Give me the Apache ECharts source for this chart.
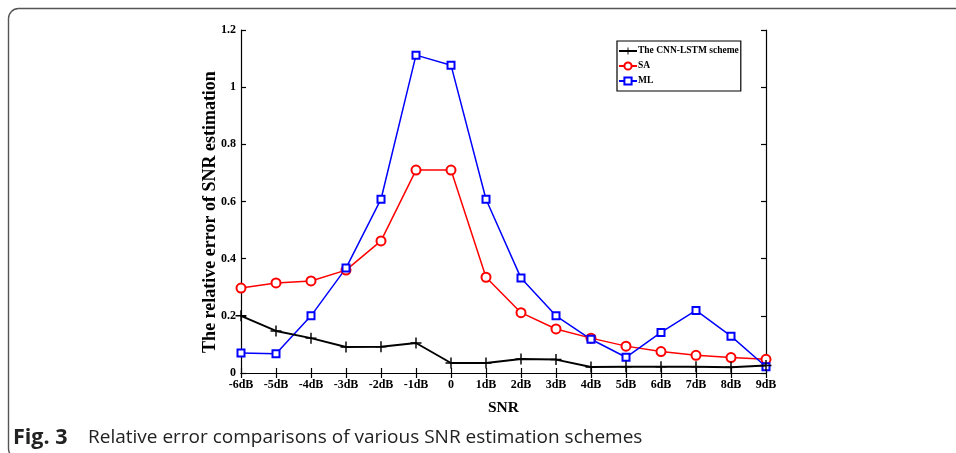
<!DOCTYPE html>
<html>
<head>
<meta charset="utf-8">
<style>
  html, body { margin: 0; padding: 0; background: #fff; }
  #chart { width: 956px; height: 453px; }
</style>
<script src="https://cdn.jsdelivr.net/npm/echarts@6/dist/echarts.min.js"></script>
</head>
<body>
<div id="chart"></div>
<script>
// SNR levels on the horizontal axis
const snrLabels = ['-6dB', '-5dB', '-4dB', '-3dB', '-2dB', '-1dB', '0', '1dB', '2dB', '3dB', '4dB', '5dB', '6dB', '7dB', '8dB', '9dB'];

// Relative error of each estimation scheme
const cnnLstm = [0.200, 0.147, 0.122, 0.091, 0.092, 0.105, 0.035, 0.035, 0.049, 0.047, 0.021, 0.022, 0.022, 0.022, 0.020, 0.026];
const saValues = [0.297, 0.315, 0.322, 0.360, 0.462, 0.710, 0.710, 0.335, 0.211, 0.154, 0.122, 0.094, 0.075, 0.062, 0.054, 0.048];
const mlValues = [0.070, 0.067, 0.200, 0.367, 0.608, 1.112, 1.077, 0.608, 0.332, 0.200, 0.118, 0.055, 0.142, 0.219, 0.129, 0.022];

const yTicks = { min: 0, max: 1.2, step: 0.2 };

const serif = '"Liberation Serif", "Times New Roman", serif';
const sans = '"Open Sans", "Noto Sans", sans-serif';
const plusSymbol = 'path://M4.35,0h1.3v10h-1.3zM0,4.35h10v1.3h-10z';

const chart = echarts.init(document.getElementById('chart'), null, { renderer: 'canvas' });

function ticks(extra) {
  return Object.assign({ show: true, inside: true, length: 5, lineStyle: { color: '#000', width: 1.2 } }, extra || {});
}

chart.setOption({
  animation: false,
  backgroundColor: '#fff',
  grid: { left: 241, right: 190, top: 30, bottom: 80, containLabel: false },
  legend: {
    left: 617, top: 41,
    orient: 'vertical',
    itemWidth: 18, itemHeight: 9, itemGap: 5,
    padding: [5, 2, 5, 1],
    borderColor: '#000', borderWidth: 1.2,
    backgroundColor: '#fff',
    textStyle: { fontFamily: serif, fontWeight: 'bold', fontSize: 9.5, color: '#000', padding: [0, 0, 0, -4] },
    data: ['The CNN-LSTM scheme', 'SA', 'ML']
  },
  xAxis: [
    {
      type: 'category', data: snrLabels, boundaryGap: false,
      name: 'SNR', nameLocation: 'middle', nameGap: 27,
      nameTextStyle: { fontFamily: serif, fontWeight: 'bold', fontSize: 15.5, color: '#000' },
      axisLine: { lineStyle: { color: '#000', width: 1.2 } },
      axisTick: ticks({ alignWithLabel: true }),
      axisLabel: { fontFamily: serif, fontWeight: 'bold', fontSize: 12, color: '#000', margin: 6 },
      splitLine: { show: false }
    },
    {
      type: 'category', data: snrLabels, boundaryGap: false, position: 'top',
      axisLine: { lineStyle: { color: '#000', width: 1.2 } },
      axisTick: ticks(),
      axisLabel: { show: false },
      splitLine: { show: false }
    }
  ],
  yAxis: [
    {
      type: 'value', min: yTicks.min, max: yTicks.max, interval: yTicks.step,
      axisLine: { show: true, lineStyle: { color: '#000', width: 1.2 } },
      axisTick: ticks(),
      axisLabel: { fontFamily: serif, fontWeight: 'bold', fontSize: 12, color: '#000', margin: 5 },
      splitLine: { show: false }
    },
    {
      type: 'value', min: yTicks.min, max: yTicks.max, interval: yTicks.step, position: 'right',
      axisLine: { show: true, lineStyle: { color: '#000', width: 1.2 } },
      axisTick: ticks(),
      axisLabel: { show: false },
      splitLine: { show: false }
    }
  ],
  series: [
    {
      name: 'The CNN-LSTM scheme', type: 'line', data: cnnLstm,
      symbol: plusSymbol, symbolSize: 11,
      lineStyle: { color: '#000', width: 1.9 },
      itemStyle: { color: '#000' },
      z: 3
    },
    {
      name: 'SA', type: 'line', data: saValues,
      symbol: 'emptyCircle', symbolSize: 9,
      lineStyle: { color: '#ff0000', width: 1.5 },
      itemStyle: { color: '#ff0000', borderWidth: 1.3 },
      z: 2
    },
    {
      name: 'ML', type: 'line', data: mlValues,
      symbol: 'emptyRect', symbolSize: 7,
      lineStyle: { color: '#0000ff', width: 1.5 },
      itemStyle: { color: '#0000ff', borderWidth: 1.3 },
      z: 2
    }
  ],
  graphic: [
    {
      type: 'rect', silent: true, z: -1,
      shape: { x: 8.5, y: 8.5, width: 1000, height: 450, r: 10 },
      style: { fill: 'none', stroke: '#555', lineWidth: 1.4 }
    },
    {
      // vertical axis title
      type: 'text', x: 210, y: 212, rotation: Math.PI / 2,
      style: {
        text: 'The relative error of SNR estimation',
        fontFamily: serif, fontWeight: 'bold', fontSize: 18, fill: '#000',
        align: 'center', verticalAlign: 'middle'
      }
    },
    {
      type: 'text', left: 13, top: 427,
      style: {
        text: '{b|Fig. 3}{r|Relative error comparisons of various SNR estimation schemes}',
        rich: {
          b: { fontFamily: sans, fontWeight: 'bold', fontSize: 21.5, fill: '#222', width: 75 },
          r: { fontFamily: sans, fontSize: 19, fill: '#222' }
        }
      }
    }
  ]
});
</script>
</body>
</html>
